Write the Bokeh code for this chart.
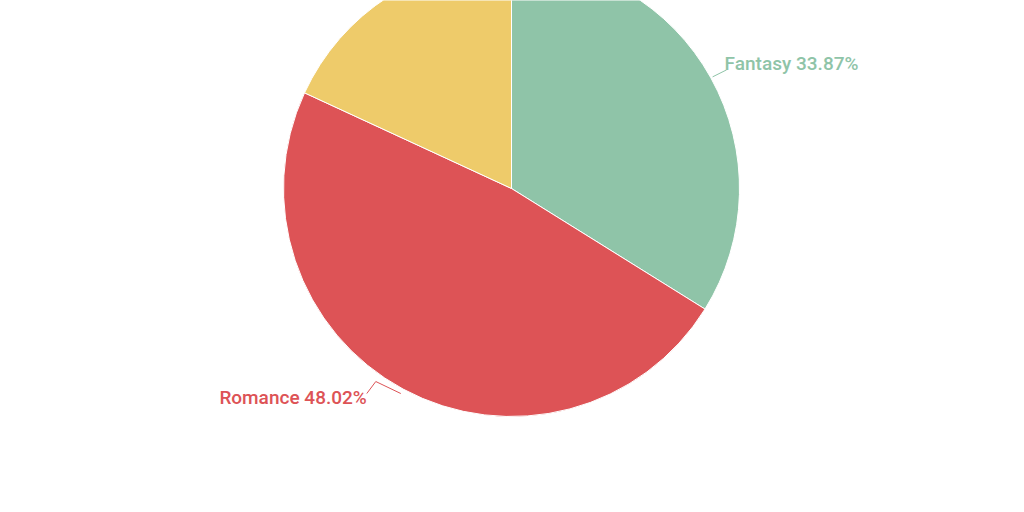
import math
from bokeh.plotting import figure
from bokeh.models import Range1d, ColumnDataSource
from bokeh.core.properties import value
from bokeh.embed import file_html
from bokeh.resources import INLINE

categories = ["Fantasy", "Romance", "Other"]
shares = [33.87, 48.02, 18.11]
colors = ["#8fc4a8", "#dd5356", "#eecb6a"]
show_label = [True, True, False]

W, H = 1008, 496
CX, CY, R = 511, 308, 228

p = figure(width=W, height=H, output_backend="svg", toolbar_location=None,
           x_range=Range1d(0, W), y_range=Range1d(0, H), min_border=0)
p.axis.visible = False
p.grid.visible = False
p.outline_line_color = None
p.background_fill_color = "white"

total = sum(shares)
start = 90.0
starts, ends, mids = [], [], []
for s in shares:
    sweep = 360.0 * s / total
    end = start - sweep
    starts.append(math.radians(end))
    ends.append(math.radians(start))
    mids.append(math.radians(start - sweep / 2))
    start = end

src = ColumnDataSource(dict(start=starts, end=ends, color=colors, cat=categories))
p.wedge(x=CX, y=CY, radius=R, start_angle="start", end_angle="end",
        fill_color="color", line_color="white", line_width=1, source=src)

for cat, s, col, m, show in zip(categories, shares, colors, mids, show_label):
    if not show:
        continue
    label = f"{cat} {s:.2f}%"
    if math.cos(m) > 0:
        ex, ey = CX + (R + 2) * math.cos(m), CY + (R + 2) * math.sin(m)
        xs = [ex, ex + 14]
        ys = [ey, ey + 7]
        p.line(xs, ys, line_color=col, line_width=1)
        p.text(x=[ex + 12], y=[ey + 13], text=[label], text_color=col,
               text_font=value("Roboto Medium"), text_font_size="19px",
               text_align="left", text_baseline="middle")
    else:
        ex, ey = CX + (R + 5) * math.cos(m), CY + (R + 5) * math.sin(m)
        xs = [ex, ex - 25, ex - 34]
        ys = [ey, ey + 12, ey]
        p.line(xs, ys, line_color=col, line_width=1)
        p.text(x=[ex - 34], y=[ey - 4], text=[label], text_color=col,
               text_font=value("Roboto Medium"), text_font_size="19px",
               text_align="right", text_baseline="middle")

open("out.html", "w").write(file_html(p, INLINE))
